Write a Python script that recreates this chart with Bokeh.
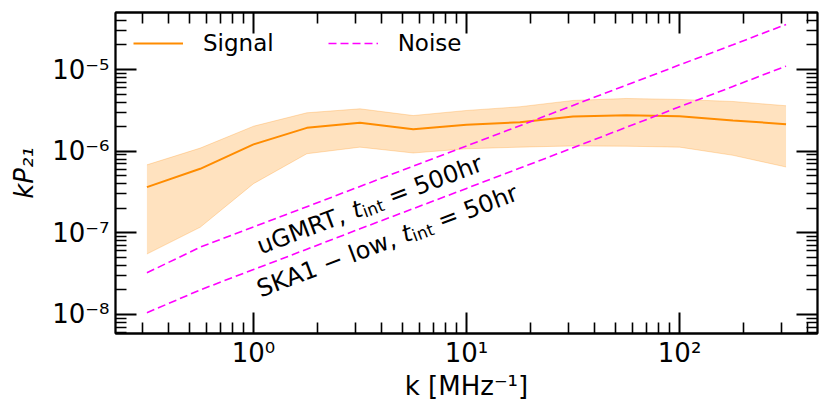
import math
from bokeh.plotting import figure
from bokeh.models import LogAxis, FixedTicker, Legend, LegendItem, Range1d, CustomJSTickFormatter
from bokeh.core.properties import value
from bokeh.embed import file_html
from bokeh.resources import INLINE

# ---- data ----
k = [0.316, 0.562, 1.0, 1.78, 3.16, 5.62, 10.0, 17.8, 31.6, 56.2, 100.0, 178.0, 316.0]
signal = [3.63e-7, 6.08e-7, 1.21e-6, 1.93e-6, 2.23e-6, 1.86e-6, 2.10e-6, 2.26e-6,
          2.66e-6, 2.76e-6, 2.68e-6, 2.38e-6, 2.14e-6]
signal_hi = [6.8e-7, 1.09e-6, 2.02e-6, 2.95e-6, 3.3e-6, 2.73e-6, 3.15e-6, 3.5e-6,
             4.18e-6, 4.42e-6, 4.3e-6, 4.06e-6, 3.6e-6]
signal_lo = [5.5e-8, 1.17e-7, 4.0e-7, 9.3e-7, 1.12e-6, 9.5e-7, 1.07e-6, 1.12e-6,
             1.16e-6, 1.15e-6, 1.12e-6, 8.9e-7, 6.4e-7]
noise_ugmrt = [3.24e-8, 6.67e-8, 1.18e-7, 2.09e-7, 3.70e-7, 6.55e-7, 1.16e-6, 2.05e-6,
               3.63e-6, 6.43e-6, 1.14e-5, 2.01e-5, 3.56e-5]
noise_ska = [1.05e-8, 2.0e-8, 3.55e-8, 6.3e-8, 1.12e-7, 1.98e-7, 3.5e-7, 6.2e-7,
             1.1e-6, 1.96e-6, 3.5e-6, 6.2e-6, 1.1e-5]

x_major = [1.0, 10.0, 100.0]
y_major = [1e-8, 1e-7, 1e-6, 1e-5]
legend_labels = ["Signal", "Noise"]
label_ugmrt = ["uGMRT,", "t", "int", "= 500hr"]
label_ska = ["SKA1 \u2212 low,", "t", "int", "= 50hr"]
label_ugmrt_pos = (1.05, 6.7e-8)
label_ska_pos = (1.05, 2.0e-8)

FONT = "DejaVu Sans"

p = figure(width=830, height=415, x_axis_type="log", y_axis_type="log",
           x_range=Range1d(0.225, 444), y_range=Range1d(5.85e-9, 4.99e-5),
           output_backend="svg", toolbar_location=None,
           min_border_left=115, min_border_right=13, min_border_top=12, min_border_bottom=82)
p.grid.visible = False
p.outline_line_color = "black"
p.outline_line_width = 1.8
p.background_fill_color = "white"

x_minor = [m * 10.0 ** e for e in range(-1, 3) for m in range(2, 10)]
y_minor = [m * 10.0 ** e for e in range(-9, -4) for m in range(2, 10)]

pow_fmt = CustomJSTickFormatter(code="""
const sup = {'-':'\u207b','0':'\u2070','1':'\u00b9','2':'\u00b2','3':'\u00b3','4':'\u2074',
             '5':'\u2075','6':'\u2076','7':'\u2077','8':'\u2078','9':'\u2079'};
const e = Math.round(Math.log10(tick));
return '10' + String(e).split('').map(c => sup[c]).join('');
""")
blank_fmt = CustomJSTickFormatter(code="return ' ';")

def style_axis(ax, ticks, minor, show_labels=True):
    ax.ticker = FixedTicker(ticks=ticks, minor_ticks=minor)
    ax.major_tick_in = 21
    ax.major_tick_out = 0
    ax.minor_tick_in = 11
    ax.minor_tick_out = 0
    ax.major_tick_line_width = 2
    ax.minor_tick_line_width = 1.6
    ax.axis_line_width = 1.8
    ax.major_label_text_font = FONT
    ax.major_label_text_color = "black"
    ax.axis_label_text_font = FONT
    ax.axis_label_text_color = "black"
    ax.axis_label_text_font_size = "26px"
    ax.axis_label_text_font_style = "normal"
    if show_labels:
        ax.formatter = pow_fmt
        ax.major_label_text_font_size = "26px"
    else:
        ax.formatter = blank_fmt
        ax.major_label_text_font_size = "1px"
        ax.major_label_standoff = 0

style_axis(p.xaxis[0], x_major, x_minor)
style_axis(p.yaxis[0], y_major, y_minor)
p.xaxis[0].axis_label = "k [MHz\u207b\u00b9]"
p.xaxis[0].major_label_standoff = 4
p.xaxis[0].axis_label_standoff = 0
p.yaxis[0].axis_label = "kP\u2082\u2081"
p.yaxis[0].axis_label_text_font_style = "italic"
p.yaxis[0].major_label_standoff = 6
p.yaxis[0].axis_label_standoff = 10

top = LogAxis()
style_axis(top, x_major, x_minor, show_labels=False)
p.add_layout(top, "above")
right = LogAxis()
style_axis(right, y_major, y_minor, show_labels=False)
p.add_layout(right, "right")

# band
p.varea(x=k, y1=signal_lo, y2=signal_hi, fill_color="#ff8c00", fill_alpha=0.25)
p.line(k, signal_hi, line_color="#ff8c00", line_alpha=0.25, line_width=1)
p.line(k, signal_lo, line_color="#ff8c00", line_alpha=0.25, line_width=1)
r_sig = p.line(k, signal, line_color="#ff8c00", line_width=2)
r_n1 = p.line(k, noise_ugmrt, line_color="#ff00ff", line_width=1.6, line_dash="8 4")
p.line(k, noise_ska, line_color="#ff00ff", line_width=1.6, line_dash="8 4")

legend = Legend(items=[LegendItem(label=legend_labels[0], renderers=[r_sig]),
                       LegendItem(label=legend_labels[1], renderers=[r_n1])],
                orientation="horizontal", location="top_left")
legend.margin = 18
legend.padding = 2
legend.spacing = 54
legend.glyph_width = 50
legend.label_standoff = 20
legend.label_text_font = FONT
legend.label_text_font_size = "23px"
legend.label_text_color = "black"
legend.border_line_color = None
legend.background_fill_alpha = 0
p.add_layout(legend)

# rotated labels composed of pieces
ang = math.radians(20.7)
ca, sa = math.cos(ang), math.sin(ang)
FS = 24.0
W_T = 0.392 * FS
W_INT = 1.304 * FS * 0.7
SP = 0.318 * FS

def put_label(pieces, pos, w_first):
    offs = [0.0, w_first + SP, w_first + SP + W_T, w_first + SP + W_T + W_INT + SP]
    sizes = [FS, FS, FS * 0.7, FS]
    styles = ["normal", "italic", "normal", "normal"]
    downs = [0, 0, 4.5, 0]
    for txt, d, s, st, dn in zip(pieces, offs, sizes, styles, downs):
        p.text(x=[pos[0]], y=[pos[1]], text=[txt], angle=ang,
               x_offset=d * ca + dn * sa, y_offset=-d * sa + dn * ca,
               text_font=value(FONT), text_font_size=value(f"{s:.1f}px"),
               text_font_style=st, text_align="left", text_baseline="alphabetic",
               text_color="black")

put_label(label_ugmrt, label_ugmrt_pos, 3.896 * FS)
put_label(label_ska, label_ska_pos, 6.111 * FS)

open("out.html", "w").write(file_html(p, INLINE))
